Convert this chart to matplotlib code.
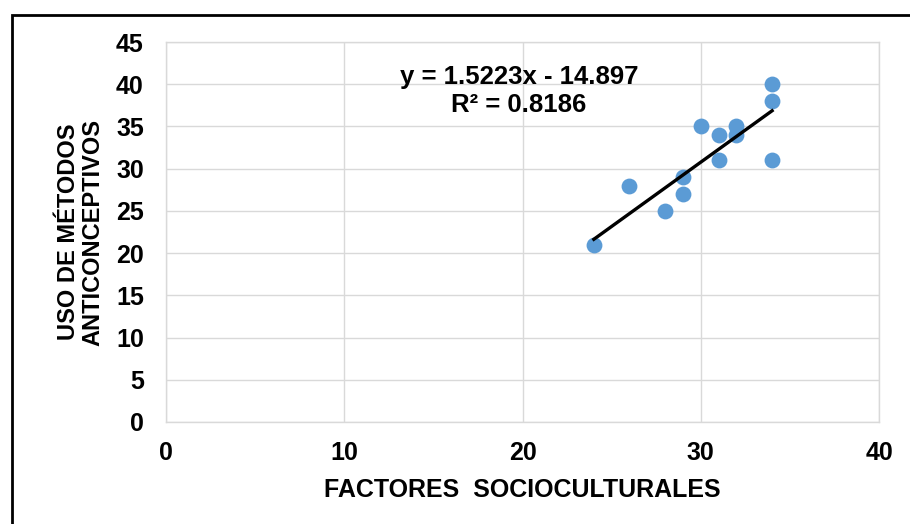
import matplotlib
matplotlib.use("Agg")
import matplotlib.pyplot as plt
import numpy as np
from matplotlib.patches import Rectangle

plt.rcParams['font.family'] = ['Liberation Sans', 'DejaVu Sans']

# Data
factores = [24, 26, 28, 29, 29, 30, 31, 31, 32, 32, 34, 34, 34]
uso = [21, 28, 25, 29, 27, 35, 34, 31, 35, 34, 40, 38, 31]
slope = 1.5223
intercept = -14.897
r2 = 0.8186
x_ticks = [0, 10, 20, 30, 40]
y_ticks = [0, 5, 10, 15, 20, 25, 30, 35, 40, 45]
x_label = "FACTORES  SOCIOCULTURALES"
y_label = "USO DE MÉTODOS\nANTICONCEPTIVOS"

fig = plt.figure(figsize=(9.10, 5.24), dpi=100)
ax = fig.add_axes([0.1824, 0.1947, 0.966 - 0.1824, 0.9198 - 0.1947])

# outer border box
fig.patches.append(Rectangle((12 / 910, -0.05), 1.2, 1 - 15 / 524 + 0.05,
                             transform=fig.transFigure, fill=False,
                             edgecolor='black', linewidth=2.0))

ax.scatter(factores, uso, s=130, color='#5B9BD5', zorder=3, linewidths=0)
xl = np.array([min(factores), max(factores)])
ax.plot(xl, slope * xl + intercept, color='black', linewidth=2.4, zorder=4)

ax.set_xlim(0, 40)
ax.set_ylim(0, 45)
ax.set_xticks(x_ticks)
ax.set_yticks(y_ticks)
ax.grid(True, color='#D9D9D9', linewidth=1.0)
ax.set_axisbelow(True)
for s in ax.spines.values():
    s.set_color('#D9D9D9')
    s.set_linewidth(1.0)
ax.tick_params(length=0, labelsize=18)
ax.tick_params(axis='y', pad=16)
ax.tick_params(axis='x', pad=14)
for lab in ax.get_xticklabels() + ax.get_yticklabels():
    lab.set_fontweight('bold')

ax.set_xlabel(x_label, fontsize=18, fontweight='bold', labelpad=9)
ax.set_ylabel(y_label, fontsize=17, fontweight='bold', labelpad=8, linespacing=1.1)

ax.text(0.495, 0.872, f"y = {slope}x - {abs(intercept)}\nR² = {r2}",
        transform=ax.transAxes, ha='center', va='center', fontsize=18.5,
        fontweight='bold', linespacing=1.2)

fig.savefig("out.png", dpi=100)
